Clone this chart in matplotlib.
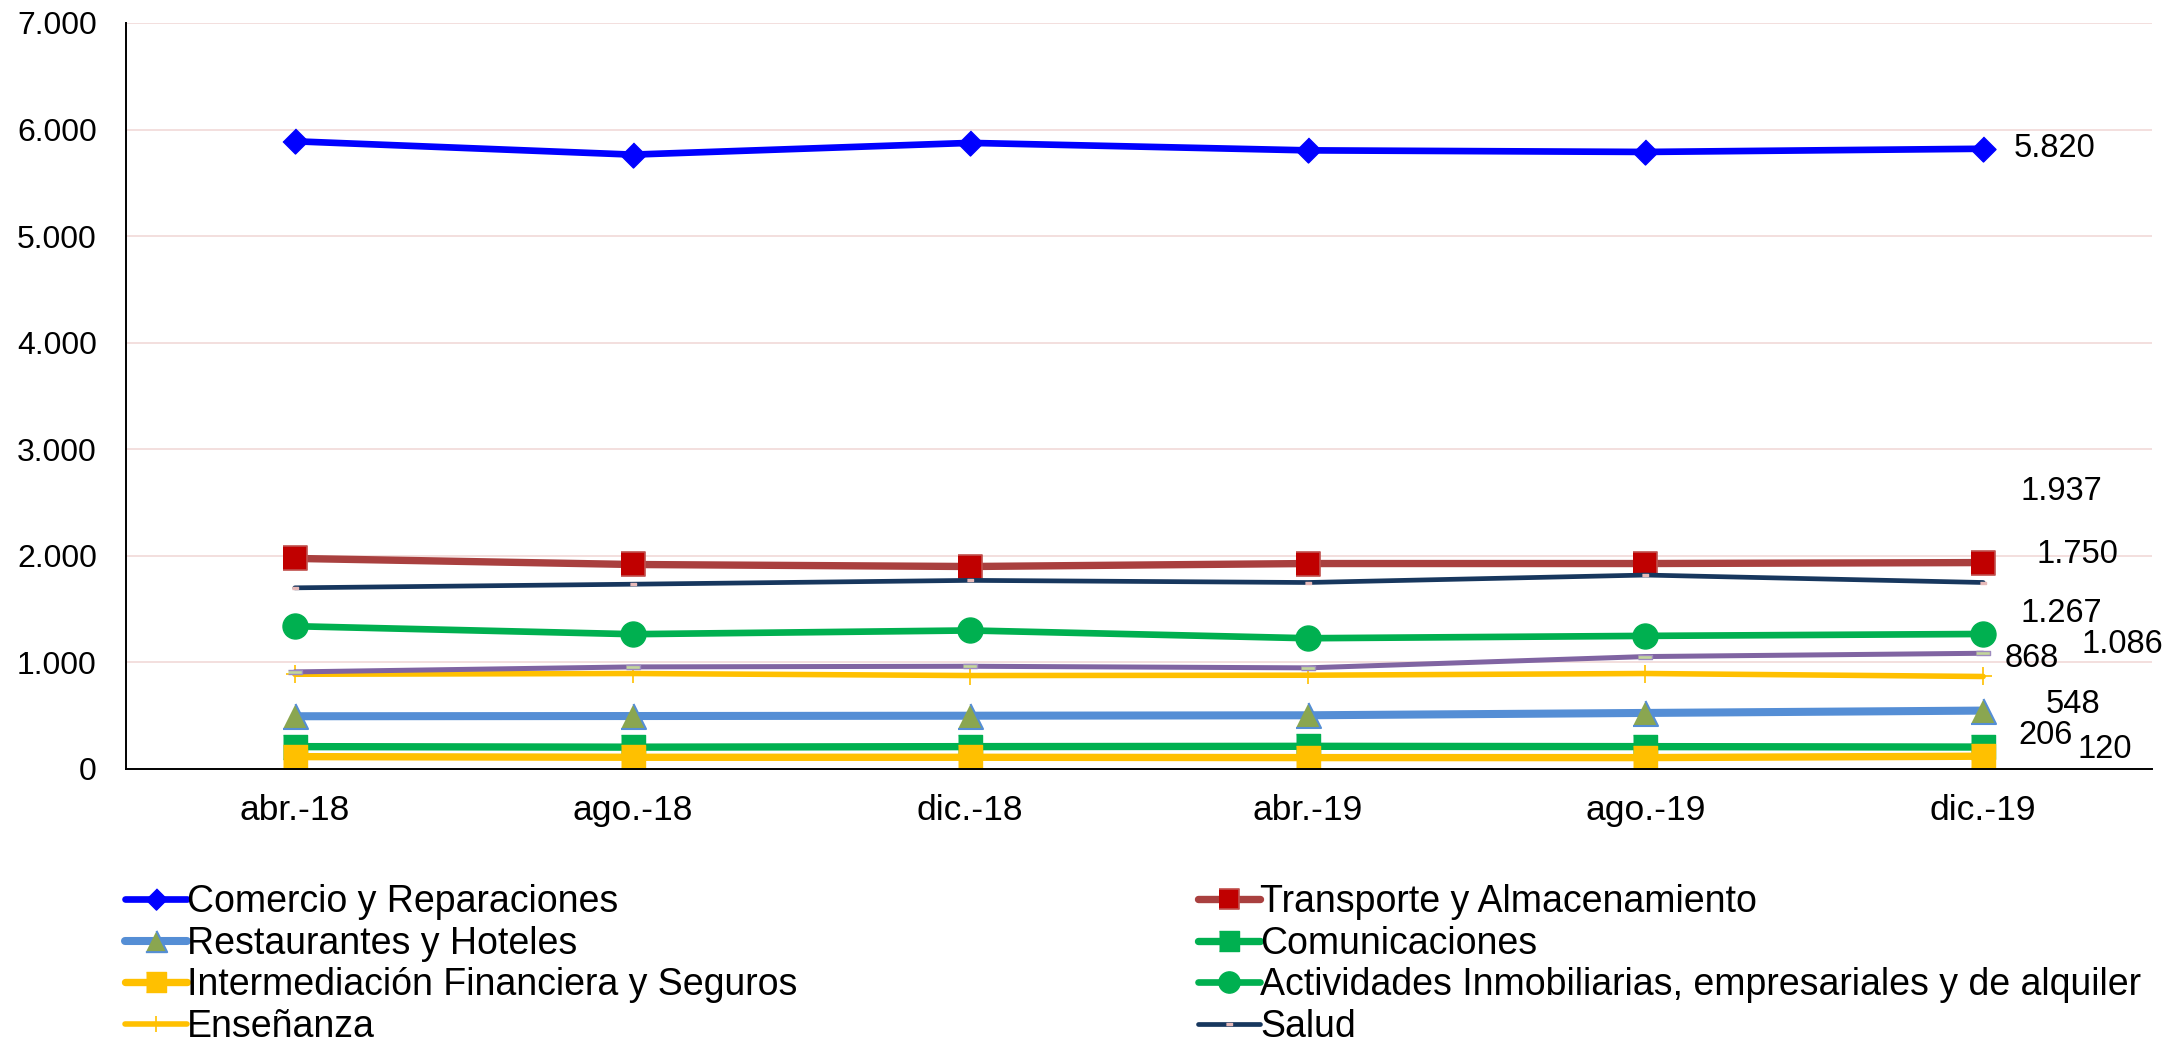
import numpy as np
import matplotlib
matplotlib.use("Agg")
import matplotlib.pyplot as plt
from matplotlib.ticker import FuncFormatter, MultipleLocator
from matplotlib import font_manager

meses = ["abr.-18", "ago.-18", "dic.-18", "abr.-19", "ago.-19", "dic.-19"]

comercio = [5890, 5765, 5875, 5805, 5790, 5820]
transporte = [1976, 1919, 1900, 1928, 1928, 1937]
restaurantes = [495, 497, 500, 504, 526, 548]
comunicaciones = [210, 205, 210, 213, 210, 206]
intermediacion = [116, 110, 110, 107, 107, 120]
actividades = [1340, 1265, 1300, 1227, 1249, 1267]
ensenanza = [889, 896, 877, 880, 896, 868]
salud = [1700, 1734, 1770, 1750, 1820, 1750]
otro = [911, 958, 964, 949, 1055, 1086]  # serie sin leyenda (morada)

nombres = ["Comercio y Reparaciones", "Transporte y Almacenamiento",
           "Restaurantes y Hoteles", "Comunicaciones",
           "Intermediación Financiera y Seguros",
           "Actividades Inmobiliarias, empresariales y de alquiler",
           "Enseñanza", "Salud", None]

fams = {f.name for f in font_manager.fontManager.ttflist}
base_font = "Liberation Sans" if "Liberation Sans" in fams else "DejaVu Sans"
plt.rcParams['font.family'] = [base_font, 'DejaVu Sans']

square = [(-1, -1), (1, -1), (1, 1), (-1, 1)]
diamond = [(0, 1), (1, 0), (0, -1), (-1, 0)]
tri = [(-1, -1), (1, -1), (0, 1)]
dash = [(-1, -0.3), (1, -0.3), (1, 0.3), (-1, 0.3)]

series = [
    (comercio, dict(color="#0000FF", lw=4.8, marker=diamond, ms=18, mfc="#0000FF", mec="#0000FF")),
    (transporte, dict(color="#A9403F", lw=5.3, marker=square, ms=17, mfc="#C00000", mec="#C0504D", mew=1.2)),
    (restaurantes, dict(color="#558ED5", lw=5.8, marker=tri, ms=18, mfc="#8AA650", mec="#558ED5", mew=1.5)),
    (comunicaciones, dict(color="#00B050", lw=5.3, marker=square, ms=17, mfc="#00B050", mec="#00B050")),
    (intermediacion, dict(color="#FFC000", lw=5.3, marker=square, ms=17, mfc="#FFC000", mec="#FFC000")),
    (actividades, dict(color="#00B050", lw=4.8, marker="o", ms=18, mfc="#00B050", mec="#00B050")),
    (ensenanza, dict(color="#FFC000", lw=4.0, marker="+", ms=13, mec="#FFC000", mew=1.2)),
    (salud, dict(color="#17375E", lw=3.4, marker=dash, ms=5, mfc="#E6B9B8", mec="#E6B9B8")),
    (otro, dict(color="#8064A2", lw=3.6, marker=dash, ms=10, mfc="#C3D69B", mec="#9E8BBF")),
]

# data label offsets in pixels (dx, dy), as placed in the original
label_off = [(71, 0), (78, 71), (90, 6), (62, 12), (122, 7), (78, 20), (49, 18), (94, 28), (139, 9)]

fig = plt.figure(figsize=(21.8, 10.41), dpi=100)
ax = fig.add_axes([126 / 2180, 1 - 769 / 1041, (2152 - 126) / 2180, (769 - 23) / 1041])

x = np.arange(len(meses))
handles = []
for (vals, st), name, off in zip(series, nombres, label_off):
    h, = ax.plot(x, vals, solid_capstyle="round", solid_joinstyle="round", **st)
    if name:
        handles.append((h, name))
    ax.annotate(f"{vals[-1]:,.0f}".replace(",", "."), xy=(x[-1], vals[-1]),
                xytext=off, textcoords="offset pixels", ha="center", va="center",
                fontsize=23.5, color="black")

ax.set_xlim(-0.5, len(meses) - 0.5)
ax.set_ylim(0, 7000)
ax.yaxis.set_major_locator(MultipleLocator(1000))
ax.yaxis.set_major_formatter(FuncFormatter(lambda v, p: f"{v:,.0f}".replace(",", ".")))
ax.set_xticks(x)
ax.set_xticklabels(meses)
ax.tick_params(axis="y", length=0, labelsize=23, pad=21)
ax.tick_params(axis="x", length=0, labelsize=25.5, pad=18)
ax.grid(axis="y", color="#F2DCDB", lw=1.3)
ax.set_axisbelow(True)
for s in ["top", "right"]:
    ax.spines[s].set_visible(False)
for s in ["left", "bottom"]:
    ax.spines[s].set_color("black")
    ax.spines[s].set_linewidth(1.4)

# two-column legend, row-wise order like Excel
left = [handles[i] for i in (0, 2, 4, 6)]
right = [handles[i] for i in (1, 3, 5, 7)]
leg_kw = dict(loc="upper left", frameon=False, borderpad=0, borderaxespad=0,
              handlelength=1.65, handletextpad=0.0, labelspacing=0.15,
              prop=dict(size=27), numpoints=1, markerscale=0.85)
lg1 = fig.legend([h for h, _ in left], [n for _, n in left],
                 bbox_to_anchor=(125 / 2180, 1 - 884 / 1041), **leg_kw)
lg2 = fig.legend([h for h, _ in right], [n for _, n in right],
                 bbox_to_anchor=(1198 / 2180, 1 - 884 / 1041), **leg_kw)

fig.savefig("out.png", dpi=100)
